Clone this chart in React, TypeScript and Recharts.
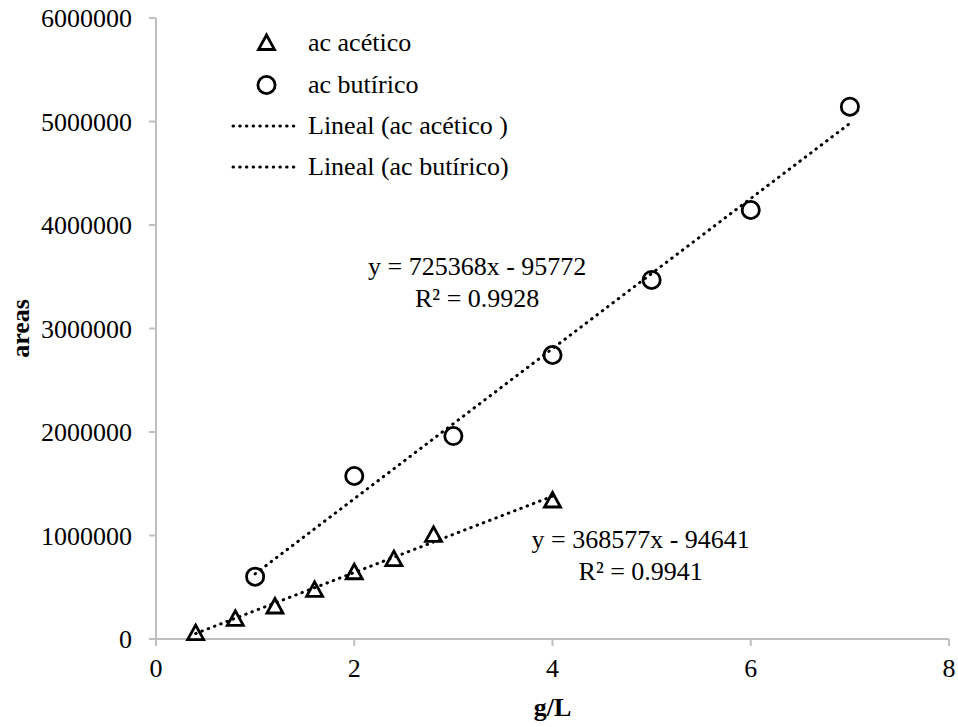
import { ScatterChart, Scatter, XAxis, YAxis, Legend, ReferenceDot } from "recharts";

const FONT = "'Liberation Serif', 'Times New Roman', serif";
const AXIS_GREY = "#bfbfbf";

// readings
const aceticConc = [0.4, 0.8, 1.2, 1.6, 2.0, 2.4, 2.8, 4.0];
const aceticArea = [61000, 200000, 319000, 480000, 650000, 776000, 1011000, 1343000];

const butyricConc = [1, 2, 3, 4, 5, 6, 7];
const butyricArea = [602000, 1575000, 1961000, 2744000, 3469000, 4145000, 5143000];

// excel trendline ends (first / last x of each series)
const aceticTrendConc = [0.4, 4.0];
const aceticTrendArea = [52790, 1379667];
const butyricTrendConc = [1, 7];
const butyricTrendArea = [629596, 4981804];

const xTicks = [0, 2, 4, 6, 8];
const yTicks = [0, 1000000, 2000000, 3000000, 4000000, 5000000, 6000000];

const legendNames = ["ac acético", "ac butírico", "Lineal (ac acético )", "Lineal (ac butírico)"];

const toPoints = (xs: number[], ys: number[]) => xs.map((x, i) => ({ x, y: ys[i] }));

const aceticPoints = toPoints(aceticConc, aceticArea);
const butyricPoints = toPoints(butyricConc, butyricArea);
const aceticTrend = toPoints(aceticTrendConc, aceticTrendArea);
const butyricTrend = toPoints(butyricTrendConc, butyricTrendArea);

const dotted = { stroke: "#000", strokeWidth: 3, strokeDasharray: "0.5 6.2", strokeLinecap: "round" as const };

function Triangle({ cx, cy }: any) {
  return (
    <path
      d={`M${cx},${cy - 7.5} L${cx + 8},${cy + 7} L${cx - 8},${cy + 7} Z`}
      fill="none"
      stroke="#000"
      strokeWidth={2.8}
    />
  );
}

function Ring({ cx, cy }: any) {
  return <circle cx={cx} cy={cy} r={8.6} fill="none" stroke="#000" strokeWidth={2.8} />;
}

const Nothing = () => <g />;

function LegendBox() {
  const rows = [42.5, 85, 126, 167];
  return (
    <svg width={330} height={190} style={{ display: "block" }}>
      <Triangle cx={46.5} cy={rows[0]} />
      <Ring cx={46.5} cy={rows[1]} />
      <line x1={13} x2={77} y1={rows[2]} y2={rows[2]} {...dotted} />
      <line x1={13} x2={77} y1={rows[3]} y2={rows[3]} {...dotted} />
      {legendNames.map((n, i) => (
        <text key={n} x={88} y={rows[i] + 8} fontFamily={FONT} fontSize={26} fill="#000">
          {n}
        </text>
      ))}
    </svg>
  );
}

function Equation(lines: string[]) {
  return (props: any) => {
    const { x, y } = props.viewBox;
    return (
      <g>
        {lines.map((l, i) => (
          <text key={i} x={x} y={y + i * 31.7} textAnchor="middle" fontFamily={FONT} fontSize={26} fill="#000">
            {l}
          </text>
        ))}
      </g>
    );
  };
}

export default function App() {
  const tick = { fill: "#000", fontSize: 26, fontFamily: FONT };
  return (
    <div style={{ position: "absolute", left: 0, top: 0, width: 958, height: 727, background: "#fff" }}>
      <ScatterChart width={958} height={727} margin={{ top: 18, right: 9, bottom: 28, left: 0 }}>
        <XAxis
          type="number"
          dataKey="x"
          domain={[0, 8]}
          ticks={xTicks}
          height={60}
          tick={tick}
          tickSize={7}
          tickMargin={13}
          stroke={AXIS_GREY}
          strokeWidth={2}
          label={(p: any) => (
            <text
              x={p.viewBox.x + p.viewBox.width / 2}
              y={p.viewBox.y + 77}
              textAnchor="middle"
              fontFamily={FONT}
              fontSize={26}
              fontWeight="bold"
              fill="#000"
            >
              g/L
            </text>
          )}
        />
        <YAxis
          type="number"
          dataKey="y"
          domain={[0, 6000000]}
          ticks={yTicks}
          width={156}
          tick={tick}
          tickSize={7}
          tickMargin={17}
          stroke={AXIS_GREY}
          strokeWidth={2}
          label={(p: any) => {
            const cy = p.viewBox.y + p.viewBox.height / 2;
            return (
              <text
                x={20}
                y={cy}
                transform={`rotate(-90 20 ${cy})`}
                textAnchor="middle"
                dominantBaseline="central"
                fontFamily={FONT}
                fontSize={26}
                fontWeight="bold"
                fill="#000"
              >
                areas
              </text>
            );
          }}
        />
        <Legend
          layout="vertical"
          verticalAlign="middle"
          align="center"
          wrapperStyle={{ left: 220, top: 0, width: 330, height: 190 }}
          content={() => <LegendBox />}
        />
        <Scatter name="Lineal (ac acético )" data={aceticTrend} shape={Nothing} line={dotted} lineType="joint" isAnimationActive={false} />
        <Scatter name="Lineal (ac butírico)" data={butyricTrend} shape={Nothing} line={dotted} lineType="joint" isAnimationActive={false} />
        <Scatter name="ac acético" data={aceticPoints} shape={Triangle} isAnimationActive={false} />
        <Scatter name="ac butírico" data={butyricPoints} shape={Ring} isAnimationActive={false} />
        <ReferenceDot x={3.24} y={3517000} r={0} fill="none" stroke="none" label={Equation(["y = 725368x - 95772", "R² = 0.9928"])} />
        <ReferenceDot x={4.89} y={879000} r={0} fill="none" stroke="none" label={Equation(["y = 368577x - 94641", "R² = 0.9941"])} />
      </ScatterChart>
    </div>
  );
}
